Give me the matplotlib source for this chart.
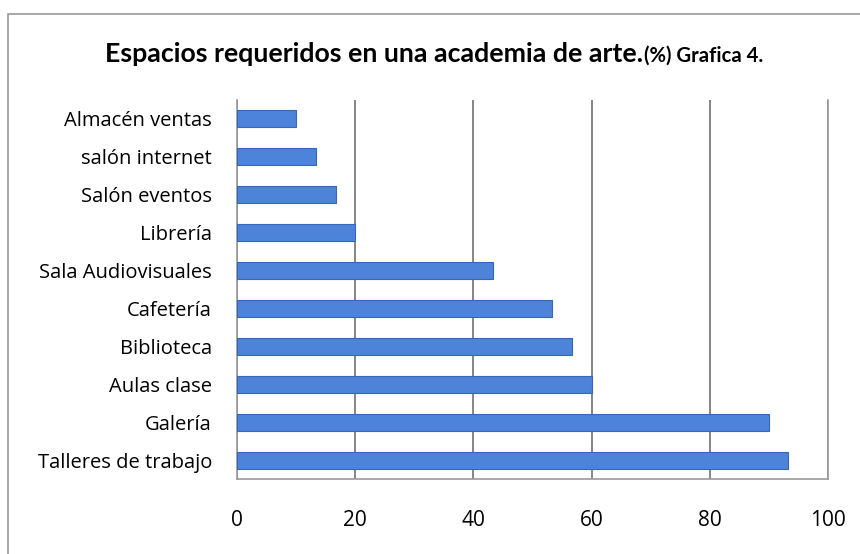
import matplotlib.pyplot as plt
from matplotlib.patches import Rectangle

# data (bottom to top as drawn)
categories = ["Talleres de trabajo", "Galería", "Aulas clase", "Biblioteca",
              "Cafetería", "Sala Audiovisuales", "Librería", "Salón eventos",
              "salón internet", "Almacén ventas"]
values = [93.3, 90.0, 60.0, 56.7, 53.3, 43.3, 20.0, 16.7, 13.3, 10.0]
x_ticks = [0, 20, 40, 60, 80, 100]

plt.rcParams['font.family'] = ['Open Sans', 'DejaVu Sans']

fig = plt.figure(figsize=(8.6, 5.54), dpi=100)
W, H = 860, 554

# outer chart frame (runs off right and bottom edge like the scan)
frame = Rectangle((8 / W, -0.1), 1.0, 1 - 14 / H + 0.1, transform=fig.transFigure,
                  fill=False, edgecolor='#9a9a9a', linewidth=1.2)
fig.patches.append(frame)

ax = fig.add_axes([237 / W, 1 - 479 / H, (828 - 237) / W, (479 - 100) / H])

ax.barh(range(len(categories)), values, height=0.45, color='#4d84da',
        edgecolor='#3566b8', linewidth=0.8, zorder=3)

ax.set_xlim(0, 100)
ax.set_ylim(-0.5, len(categories) - 0.5)
ax.set_xticks(x_ticks)
ax.set_xticklabels([str(t) for t in x_ticks], fontsize=15)
ax.set_yticks(range(len(categories)))
ax.set_yticklabels(categories, fontsize=14.5)
ax.tick_params(axis='x', length=0, pad=22)
ax.tick_params(axis='y', length=0, pad=18)

ax.xaxis.grid(True, color='#858585', linewidth=1.4, zorder=0)
for side in ['top', 'right', 'bottom', 'left']:
    ax.spines[side].set_color('#9a9a9a')
    ax.spines[side].set_linewidth(1.2)
ax.spines['top'].set_visible(False)

# title in two pieces: main part and the small "(%) Grafica 4."
t1 = fig.text(105 / W, 1 - 62 / H, "Espacios requeridos en una academia de arte.",
              fontsize=19.3, fontweight='bold', family=['Lato', 'DejaVu Sans'],
              ha='left', va='baseline')
ax.annotate("(%) Grafica 4.", xy=(1, 0), xycoords=t1, xytext=(1, 0),
            textcoords='offset points', fontsize=14.6, fontweight='bold',
            family=['Lato', 'DejaVu Sans'],
            ha='left', va='bottom', annotation_clip=False)

fig.savefig('out.png', dpi=100)
